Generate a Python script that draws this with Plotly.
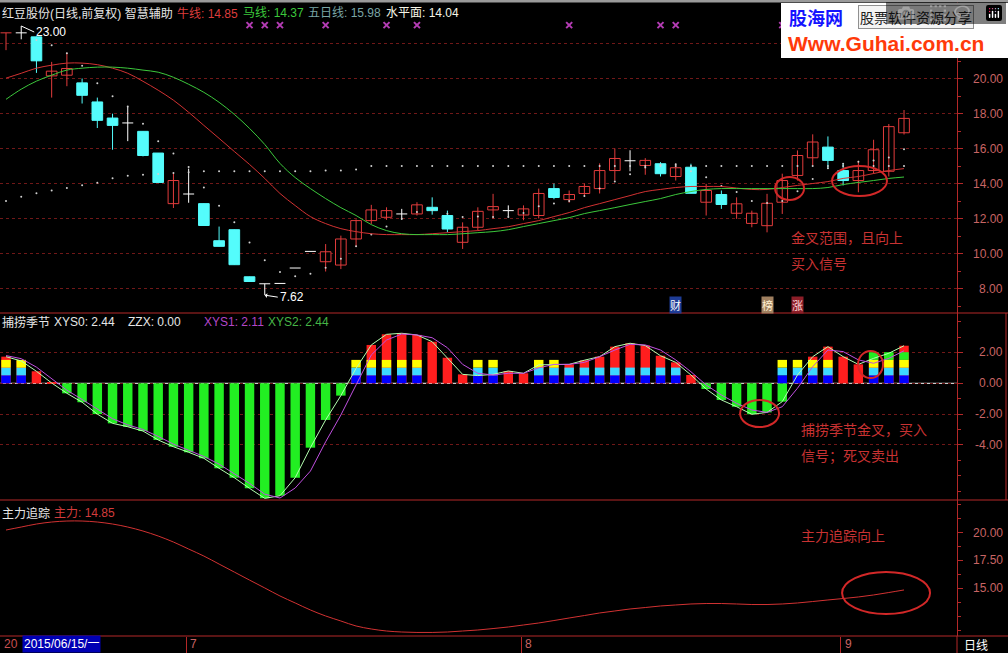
import plotly.graph_objects as go

# ------------------------------------------------------------------ data
idx = list(range(60))
month_start = [12, 34, 55]
month_text = ["7", "8", "9"]

opens = [22.61, 22.61, 22.38, 20.15, 20.19, 19.75, 18.66, 17.74, 17.46, 16.98,
         15.74, 12.85, 13.40, 12.85, 10.73, 11.36, 8.67, 8.27, 8.29, 9.17,
         10.12, 9.53, 9.34, 10.83, 11.88, 12.07, 12.26, 12.26, 12.64, 12.17,
         10.64, 11.50, 12.49, 12.45, 12.20, 12.17, 13.71, 13.08, 13.43, 13.71,
         14.74, 15.30, 15.03, 15.13, 14.40, 14.93, 12.93, 13.37, 12.30, 11.72,
         11.59, 12.93, 14.46, 15.47, 16.08, 14.74, 14.17, 14.74, 14.70, 16.90]
highs = [22.61, 23.00, 22.40, 20.95, 21.47, 20.00, 18.91, 17.99, 18.37, 16.98,
         15.74, 14.60, 14.85, 12.85, 11.54, 11.36, 8.67, 8.27, 8.29, 9.17,
         10.12, 10.54, 11.02, 11.95, 12.78, 12.64, 12.55, 12.93, 13.21, 12.45,
         11.78, 12.64, 13.41, 12.75, 12.75, 13.71, 14.00, 13.60, 14.00, 15.15,
         16.00, 15.90, 15.45, 15.22, 15.13, 15.13, 13.98, 13.60, 13.21, 12.45,
         13.41, 14.56, 15.89, 16.81, 16.69, 15.13, 15.30, 16.50, 17.40, 18.20]
lows = [21.62, 22.24, 20.32, 18.91, 19.56, 18.57, 17.17, 15.93, 16.42, 15.55,
        14.06, 12.60, 12.90, 11.60, 10.41, 9.36, 8.40, 7.62, 8.29, 9.17,
        10.12, 8.97, 9.11, 10.39, 11.69, 11.92, 11.92, 12.17, 12.22, 11.21,
        10.26, 11.31, 11.98, 12.10, 11.90, 12.00, 13.10, 12.90, 13.30, 13.43,
        14.17, 14.70, 14.50, 14.40, 14.17, 13.44, 12.17, 12.55, 11.98, 11.50,
        11.21, 12.26, 14.17, 15.03, 14.84, 13.89, 13.50, 14.56, 14.40, 16.80]
closes = [22.61, 22.61, 21.01, 20.42, 20.57, 19.04, 17.61, 17.32, 17.46, 15.60,
          14.06, 14.17, 13.40, 11.60, 10.41, 9.36, 8.40, 8.27, 8.29, 9.17,
          10.12, 10.10, 10.83, 11.88, 12.49, 12.45, 12.26, 12.78, 12.45, 11.40,
          11.50, 12.41, 12.68, 12.45, 12.55, 13.43, 13.20, 13.37, 13.83, 14.74,
          15.43, 15.30, 15.32, 14.56, 14.90, 13.44, 13.60, 12.80, 12.84, 12.30,
          12.87, 14.17, 15.60, 16.37, 15.32, 14.17, 14.74, 15.93, 17.25, 17.72]
# r = red hollow (up), c = cyan (down), w = white (flat)
candle_kind = list("rwcrrcccwc" "crwccccwww" "wrrrrrwrcc" "rrrwrrcrrr"
                   "rwrcrcrcrr" "rrrrccrrrr")

niu_line = [20.02, 20.30, 20.59, 20.76, 20.88, 20.88, 20.79, 20.59, 20.30, 19.84,
            19.33, 18.76, 18.07, 17.32, 16.58, 15.83, 15.09, 14.29, 13.43, 12.74,
            12.11, 11.71, 11.42, 11.25, 11.13, 11.08, 11.08, 11.08, 11.13, 11.19,
            11.25, 11.31, 11.42, 11.53, 11.71, 11.88, 12.11, 12.34, 12.62, 12.85,
            13.08, 13.31, 13.54, 13.66, 13.77, 13.83, 13.83, 13.83, 13.74, 13.66,
            13.66, 13.77, 13.89, 14.00, 14.11, 14.29, 14.40, 14.57, 14.74, 14.85]
ma_line = [18.81, 19.39, 19.85, 20.19, 20.48, 20.59, 20.65, 20.65, 20.59, 20.48,
           20.36, 20.07, 19.67, 19.21, 18.64, 17.95, 17.15, 16.23, 15.15, 14.34,
           13.71, 13.14, 12.62, 12.17, 11.65, 11.31, 11.13, 11.08, 11.08, 11.08,
           11.13, 11.19, 11.25, 11.36, 11.54, 11.71, 11.88, 12.05, 12.28, 12.45,
           12.62, 12.80, 12.97, 13.14, 13.37, 13.54, 13.66, 13.71, 13.71, 13.71,
           13.71, 13.71, 13.71, 13.71, 13.77, 13.94, 14.06, 14.17, 14.29, 14.37]
five_day = [None, None, 22.20, 21.90, 21.44, 20.73, 19.73, 18.99, 18.40, 17.41,
            16.41, 15.72, 14.94, 13.77, 12.73, 11.79, 10.63, 9.61, 8.95, 8.70,
            8.85, 9.19, 9.70, 10.42, 11.08, 11.55, 11.98, 12.37, 12.49, 12.27,
            12.08, 12.11, 12.09, 12.09, 12.32, 12.70, 12.86, 13.00, 13.28, 13.71,
            14.11, 14.53, 14.92, 15.07, 15.10, 14.70, 14.36, 13.86, 13.52, 13.00,
            12.88, 13.00, 13.56, 14.26, 14.87, 15.13, 15.24, 15.31, 15.48, 15.96]
level_dots = [13.00, 13.25, 13.45, 13.60, 13.75, 13.90, 14.05, 14.30, 14.45, 14.50,
              14.55, 14.60, 14.65, 14.70, 14.70, 14.70, 14.70, 14.70, 14.70, 14.70,
              14.70, 14.75, 14.75, 14.80, 15.00, 15.00, 15.00, 15.00, 15.00, 15.00,
              15.00, 15.00, 15.00, 15.00, 15.00, 15.00, 15.00, 15.00, 15.00, 15.00,
              15.00, 15.00, 15.00, 15.00, 15.00, 15.00, 15.00, 15.00, 15.00, 15.00,
              15.00, 15.00, 15.00, 15.00, 15.00, 15.00, 15.00, 15.00, 15.00, 15.00]
signal_x = [16, 17, 18, 21, 25, 27, 37, 43, 44, 51]
signal_level = 23.05
tags = [(44, "财"), (50, "榜"), (52, "涨")]
tag_level = 7.06

xys0 = [1.73, 1.45, 0.78, 0.02, -0.65, -1.23, -2.00, -2.60, -2.82, -3.10,
        -3.68, -4.12, -4.48, -4.87, -5.52, -6.13, -6.82, -7.47, -7.30, -6.13,
        -4.18, -2.38, -0.80, 0.97, 2.49, 3.18, 3.25, 3.14, 2.70, 1.66,
        0.58, 0.50, 0.58, 0.80, 0.65, 1.20, 1.23, 1.23, 1.50, 1.73,
        2.38, 2.60, 2.45, 1.79, 1.36, 0.54, -0.37, -1.08, -1.52, -2.01,
        -1.89, -1.19, 0.54, 1.73, 2.38, 1.73, 1.23, 1.85, 1.95, 2.44]
xys1 = [1.80, 1.60, 1.05, 0.30, -0.45, -1.05, -1.70, -2.30, -2.70, -3.00,
        -3.45, -3.95, -4.35, -4.75, -5.25, -5.85, -6.50, -7.20, -7.45, -6.80,
        -5.70, -3.80, -2.06, -0.10, 1.84, 2.81, 3.20, 3.14, 2.96, 2.31,
        1.23, 0.65, 0.54, 0.65, 0.65, 1.00, 1.23, 1.23, 1.36, 1.73,
        2.16, 2.53, 2.49, 2.16, 1.52, 0.75, -0.11, -0.76, -1.30, -1.73,
        -1.89, -1.52, -0.32, 1.08, 2.16, 2.06, 1.52, 1.30, 1.62, 2.11]
xys2 = [1.73, 1.45, 0.78, 0.02, -0.65, -1.23, -2.00, -2.60, -2.82, -3.10,
        -3.68, -4.12, -4.48, -4.87, -5.52, -6.13, -6.82, -7.47, -7.30, -6.13,
        -4.18, -2.38, -0.80, 0.97, 2.49, 3.18, 3.25, 3.14, 2.70, 1.66,
        0.58, 0.50, 0.58, 0.80, 0.65, 1.20, 1.23, 1.23, 1.50, 1.73,
        2.38, 2.60, 2.45, 1.79, 1.36, 0.54, -0.37, -1.08, -1.52, -2.01,
        -1.89, -1.19, 0.54, 1.73, 2.38, 1.73, 1.23, 1.62, 1.95, 2.44]
# number of colour layers stacked above zero on each bar
stack_level = [3, 3, 0, 0, 0, 0, 0, 0, 0, 0,
               0, 0, 0, 0, 0, 0, 0, 0, 0, 0,
               0, 0, 0, 3, 3, 3, 3, 3, 0, 0,
               0, 3, 3, 0, 0, 3, 3, 2, 2, 2,
               2, 2, 2, 2, 2, 0, 0, 0, 0, 0,
               0, 3, 3, 3, 3, 0, 0, 4, 4, 4]
stack_layers = [(0.0, 0.52, "#0000ff"), (0.52, 1.02, "#3cd8ff"),
                (1.02, 1.52, "#ffff00"), (1.52, 2.02, "#22ee22")]

zhuli = [20.24, 20.51, 20.78, 20.96, 21.05, 21.05, 20.96, 20.78, 20.51, 20.15,
         19.70, 19.16, 18.53, 17.90, 17.18, 16.46, 15.74, 15.03, 14.31, 13.68,
         13.05, 12.51, 12.06, 11.61, 11.34, 11.16, 11.07, 11.03, 11.03, 11.07,
         11.16, 11.25, 11.38, 11.52, 11.70, 11.88, 12.10, 12.33, 12.55, 12.78,
         12.96, 13.14, 13.27, 13.41, 13.50, 13.59, 13.63, 13.63, 13.59, 13.54,
         13.54, 13.59, 13.68, 13.81, 13.95, 14.08, 14.22, 14.40, 14.62, 14.85]

top_ticks = [8, 10, 12, 14, 16, 18, 20]
mid_ticks = [2, 0, -2, -4]
bot_ticks = [20, 17.5, 15]

# ------------------------------------------------------------------ style
RED = "#e23c3c"
CYAN = "#54fcfc"
WHITE = "#ffffff"
AX = "#b42828"
LBL = "#c86464"
GRID = "#701818"
NOTE = "#c83232"
FONT = "Liberation Sans, Noto Sans CJK SC, sans-serif"
CJK = "Noto Sans CJK SC, sans-serif"
kind_color = {"r": RED, "c": CYAN, "w": WHITE}

W, H = 957.0, 636.0


def px(x):
    return x / W


def py(y):
    return (H - y) / H


fig = go.Figure()

# ---------------- price panel
for k in "rcw":
    xs, ys = [], []
    for i in idx:
        if candle_kind[i] == k and highs[i] > lows[i]:
            xs += [i, i, None]
            ys += [highs[i], lows[i], None]
    fig.add_trace(go.Scatter(x=xs, y=ys, mode="lines", yaxis="y",
                             line=dict(color=kind_color[k], width=1), hoverinfo="skip"))
for k, fill in (("r", "#000000"), ("c", CYAN)):
    sel = [i for i in idx if candle_kind[i] == k and opens[i] != closes[i]]
    fig.add_trace(go.Bar(x=sel, y=[abs(closes[i] - opens[i]) for i in sel],
                         base=[min(opens[i], closes[i]) for i in sel], width=0.7,
                         yaxis="y", marker=dict(color=fill, line=dict(color=kind_color[k], width=1)),
                         hoverinfo="skip"))
for k in "rcw":
    xs, ys = [], []
    for i in idx:
        if candle_kind[i] == k and opens[i] == closes[i]:
            xs += [i - 0.36, i + 0.36, None]
            ys += [opens[i], opens[i], None]
    if xs:
        fig.add_trace(go.Scatter(x=xs, y=ys, mode="lines", yaxis="y",
                                 line=dict(color=kind_color[k], width=1), hoverinfo="skip"))

fig.add_trace(go.Scatter(x=idx, y=five_day, mode="markers", yaxis="y",
                         marker=dict(color="#d0d0d0", size=2), hoverinfo="skip"))
fig.add_trace(go.Scatter(x=idx, y=level_dots, mode="markers", yaxis="y",
                         marker=dict(color="#d0d0d0", size=2), hoverinfo="skip"))
fig.add_trace(go.Scatter(x=idx, y=niu_line, mode="lines", yaxis="y",
                         line=dict(color="#d23232", width=1, shape="spline"), hoverinfo="skip"))
fig.add_trace(go.Scatter(x=idx, y=ma_line, mode="lines", yaxis="y",
                         line=dict(color="#3cc83c", width=1, shape="spline"), hoverinfo="skip"))
fig.add_trace(go.Scatter(x=signal_x, y=[signal_level] * len(signal_x), mode="markers", yaxis="y",
                         marker=dict(symbol="x-thin", size=6, color="#b43cb4",
                                     line=dict(color="#b43cb4", width=2)), hoverinfo="skip"))

# ---------------- 捕捞季节 panel
fig.add_trace(go.Bar(x=idx, y=xys0, width=0.62, yaxis="y2",
                     marker=dict(color=["#ff1e1e" if v >= 0 else "#22ee22" for v in xys0],
                                 line=dict(width=0)), hoverinfo="skip"))
for n, (lo, hi, c) in enumerate(stack_layers):
    sel = [i for i in idx if stack_level[i] > n]
    fig.add_trace(go.Bar(x=sel, y=[hi - lo] * len(sel), base=[lo] * len(sel), width=0.62,
                         yaxis="y2", marker=dict(color=c, line=dict(width=0)), hoverinfo="skip"))
fig.add_trace(go.Scatter(x=idx, y=xys2, mode="lines", yaxis="y2",
                         line=dict(color="#b4ffb0", width=1), hoverinfo="skip"))
fig.add_trace(go.Scatter(x=idx, y=xys1, mode="lines", yaxis="y2",
                         line=dict(color="#c050e0", width=1), hoverinfo="skip"))

# ---------------- 主力追踪 panel
fig.add_trace(go.Scatter(x=idx, y=zhuli, mode="lines", yaxis="y3",
                         line=dict(color="#d23232", width=1, shape="spline"), hoverinfo="skip"))

# ------------------------------------------------------------------ layout
axis_common = dict(side="right", anchor="x", showline=True, linecolor=AX, linewidth=1,
                   ticks="outside", ticklen=5, tickcolor=AX, showticklabels=False,
                   zeroline=False, fixedrange=True)
fig.update_layout(
    width=1008, height=653, margin=dict(l=0, r=51, t=0, b=17),
    paper_bgcolor="#000000", plot_bgcolor="#000000", showlegend=False,
    barmode="overlay", font=dict(family=FONT, size=12, color=WHITE),
    xaxis=dict(domain=[0, 1], range=[-0.394, 62.48], anchor="y3", showgrid=False,
               zeroline=False, showticklabels=False, showline=False,
               tickmode="array", tickvals=[m - 0.15 for m in month_start],
               ticks="outside", ticklen=17, tickcolor=AX, fixedrange=True),
    yaxis=dict(domain=[py(313), 1], range=[6.6, 24.486], tickmode="array",
               tickvals=[8, 10, 12, 14, 16, 18, 20, 22], showgrid=True, gridcolor=GRID,
               griddash="dot", minor=dict(ticks="outside", ticklen=3, tickcolor=AX,
                                          tickmode="linear", tick0=0, dtick=1, showgrid=False),
               **axis_common),
    yaxis2=dict(domain=[py(500), py(313)], range=[-7.578, 4.565], tickmode="array",
                tickvals=[-4, -2, 0, 2], showgrid=True, gridcolor=GRID, griddash="dot",
                minor=dict(ticks="outside", ticklen=3, tickcolor=AX, tickmode="linear",
                           tick0=0, dtick=1, showgrid=False),
                **axis_common),
    yaxis3=dict(domain=[0, py(500)], range=[10.71, 22.94], tickmode="array",
                tickvals=[15, 17.5, 20], showgrid=False,
                minor=dict(ticks="outside", ticklen=3, tickcolor=AX, tickmode="linear",
                           tick0=0, dtick=1.25, showgrid=False),
                **axis_common),
)

shapes = []
# zero line of the middle panel
shapes.append(dict(type="line", xref="paper", x0=0, x1=1, yref="y2", y0=0, y1=0,
                   line=dict(color="#ffffff", width=1), layer="below"))
# panel separators
for yp in (313, 500, 636):
    shapes.append(dict(type="line", xref="paper", x0=0, x1=px(1008), yref="paper",
                       y0=py(yp), y1=py(yp), line=dict(color=AX, width=1)))
shapes.append(dict(type="line", xref="paper", x0=px(1006), x1=px(1006), yref="paper",
                   y0=py(313), y1=py(500), line=dict(color=AX, width=1)))
shapes.append(dict(type="line", xref="paper", x0=1, x1=1, yref="paper",
                   y0=py(636), y1=py(653), line=dict(color=AX, width=1)))
shapes.append(dict(type="rect", xref="paper", x0=0, x1=px(1008), yref="paper",
                   y0=py(0), y1=py(2.5), fillcolor="#9a9a9a", line=dict(width=0)))
# highlight ellipses
ell = dict(type="circle", line=dict(color="#d22828", width=2))
shapes.append(dict(ell, xref="x", yref="y", x0=50.53, x1=52.43, y0=13.06, y1=14.37))
shapes.append(dict(ell, xref="x", yref="y", x0=54.27, x1=57.88, y0=13.29, y1=15.00))
shapes.append(dict(ell, xref="x", yref="y2", x0=48.23, x1=50.79, y0=-2.84, y1=-1.08))
shapes.append(dict(ell, xref="x", yref="y2", x0=55.98, x1=57.62, y0=0.34, y1=2.10))
shapes.append(dict(ell, xref="x", yref="y3", x0=54.93, x1=60.71, y0=12.69, y1=16.47))
# logo box
shapes.append(dict(type="rect", xref="paper", x0=px(781), x1=px(1008), yref="paper",
                   y0=py(58), y1=py(3), fillcolor="#ffffff", line=dict(width=0)))
fig.update_layout(shapes=shapes)

ann = []


def txt(x, y, s, color=WHITE, size=12, family=FONT, anchor="left", **kw):
    ann.append(dict(x=px(x), y=py(y), xref="paper", yref="paper", text=s, showarrow=False,
                    xanchor=anchor, yanchor="middle",
                    font=dict(color=color, size=size, family=family), **kw))


# headers
txt(0, 13, "红豆股份(日线,前复权) 智慧辅助", "#e6e6e6")
txt(175, 13, "牛线: 14.85", "#dc3c3c")
txt(241, 13, "马线: 14.37", "#3cc83c")
txt(306, 13, "五日线: 15.98", "#7aa6a6")
txt(384, 13, "水平面: 14.04", "#f5f5e6")
txt(0, 322, "捕捞季节", "#e6e6e6")
txt(52, 322, "XYS0: 2.44", "#e6e6e6")
txt(126, 322, "ZZX: 0.00", "#e6e6e6")
txt(202, 322, "XYS1: 2.11", "#b446c8")
txt(266, 322, "XYS2: 2.44", "#46b446")
txt(0, 513, "主力追踪", "#e6e6e6")
txt(52, 513, "主力: 14.85", "#d23c3c")

# right-axis labels
for yref, vals in (("y", top_ticks), ("y2", mid_ticks), ("y3", bot_ticks)):
    for v in vals:
        ann.append(dict(x=px(1005), y=v, xref="paper", yref=yref, text=f"{v:.2f}",
                        showarrow=False, xanchor="right", yanchor="middle",
                        font=dict(color=LBL, size=12, family=FONT)))

# notes
txt(789, 237, "金叉范围，且向上", NOTE, 14, CJK)
txt(789, 263, "买入信号", NOTE, 14, CJK)
txt(799, 429, "捕捞季节金叉，买入", NOTE, 14, CJK)
txt(799, 455, "信号；死叉卖出", NOTE, 14, CJK)
txt(799, 535, "主力追踪向上", NOTE, 14, CJK)

# high / low markers
ann.append(dict(x=1, y=highs[1], xref="x", yref="y", text="23.00", showarrow=True,
                arrowhead=0, arrowwidth=1, arrowcolor=WHITE, ax=13, ay=6,
                xanchor="left", yanchor="middle", font=dict(color=WHITE, size=12, family=FONT)))
ann.append(dict(x=17, y=lows[17], xref="x", yref="y", text="7.62", showarrow=True,
                arrowhead=1, arrowsize=0.8, arrowwidth=1, arrowcolor=WHITE, ax=13, ay=2,
                xanchor="left", yanchor="middle", font=dict(color=WHITE, size=12, family=FONT)))

# signal tags
tag_style = {"财": ("#1e3c96", "#ffffff"), "榜": ("#a08060", "#fff0d0"), "涨": ("#8c1e28", "#ffd8d8")}
for xi, t in tags:
    bg, fg = tag_style[t]
    ann.append(dict(x=xi, y=tag_level, xref="x", yref="y", text=t, showarrow=False,
                    bgcolor=bg, borderpad=0, font=dict(color=fg, size=11, family=CJK)))

# bottom strip
txt(2, 644, "20", "#c85050")
txt(22, 644, "2015/06/15/一", WHITE, 12, FONT, bgcolor="#0000b4", borderpad=1)
for m, s in zip(month_start, month_text):
    ann.append(dict(x=m - 0.15, y=py(644), xref="x", yref="paper", text=s, showarrow=False,
                    xanchor="left", yanchor="middle", xshift=2,
                    font=dict(color=LBL, size=12, family=FONT)))
txt(962, 644, "日线", WHITE, 12, CJK)

# logo
txt(787, 17, "<b>股海网</b>", "#1414ff", 18, CJK)
txt(858, 17, "股票软件资源分享", "#202020", 14, CJK, bordercolor="#909090",
    borderwidth=1, borderpad=1, bgcolor="#f4f4f4")
txt(786, 43, "<b>Www.Guhai.com.cn</b>", "#ff3a0a", 21, "Liberation Sans, Arial, sans-serif")

fig.update_layout(annotations=ann)
fig.write_html("out.html",
               post_script="document.body.style.margin='0';document.body.style.overflow='hidden';"
                           "document.body.style.background='#000';")
